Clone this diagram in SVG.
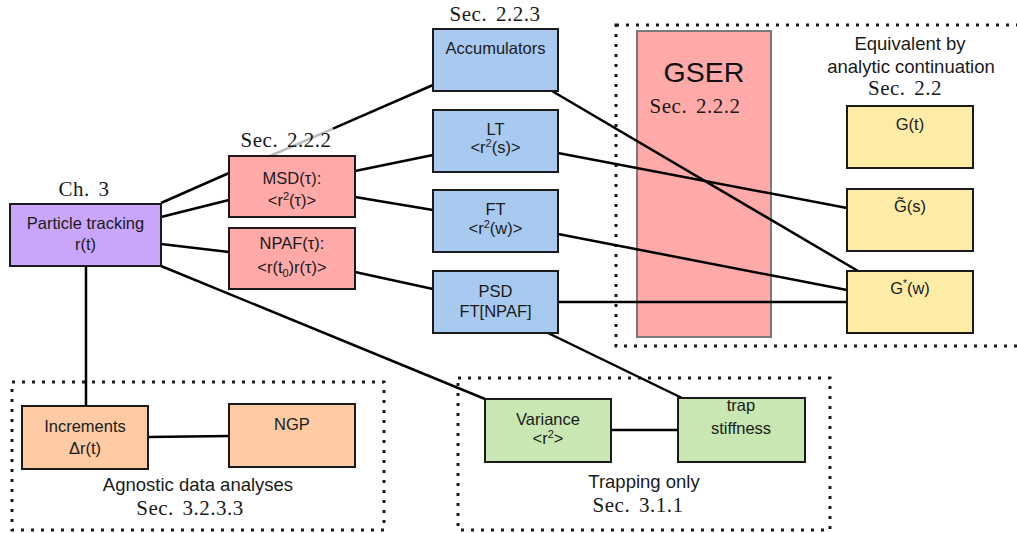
<svg xmlns="http://www.w3.org/2000/svg" width="1017" height="533" viewBox="0 0 1017 533">
<style>
.box{stroke:#1a1a1a;stroke-width:2}
.t{font-family:"Liberation Sans",Arial,sans-serif;font-size:16.5px;fill:#1a1a1a;text-anchor:middle}
.lbl{font-family:"Liberation Sans",Arial,sans-serif;font-size:18.5px;fill:#1a1a1a;text-anchor:middle}
.sec{font-family:"Liberation Serif","Times New Roman",serif;font-size:21px;fill:#1a1a1a;text-anchor:middle;word-spacing:3px;letter-spacing:0.5px}
.dot{fill:none;stroke:#1a1a1a;stroke-width:3;stroke-dasharray:3 7}
.c{stroke:#000;stroke-width:2.5;fill:none}
.sup{font-size:11px}
.purple{fill:#c9a6fc}.pink{fill:#ffa9a9}.blue{fill:#a9caf0}.yellow{fill:#feeba6}.orange{fill:#fdcaa3}.green{fill:#c8e7b2}
</style>
<g id="containers">
<rect id="equiv-group" class="dot" x="616" y="25" width="420" height="321"/>
<rect id="agnostic-group" class="dot" x="12" y="382" width="372" height="148"/>
<rect id="trapping-group" class="dot" x="458" y="378" width="372" height="152"/>
</g>
<g id="gser">
<rect x="637" y="31" width="134" height="306" fill="#ffa9a9" stroke="#7a7a7a" stroke-width="2"/>
<text x="704" y="82" style="font-family:'Liberation Sans',Arial,sans-serif;font-size:28.5px;fill:#111;text-anchor:middle">GSER</text>
<text class="sec" x="695" y="113">Sec. 2.2.2</text>
</g>
<g id="connectors">
<line class="c" x1="161" y1="203" x2="229" y2="173"/>
<line class="c" x1="161" y1="217" x2="229" y2="200"/>
<line class="c" x1="161" y1="244" x2="229" y2="252"/>
<line class="c" x1="161" y1="266" x2="485" y2="399"/>
<line class="c" x1="86" y1="266" x2="86" y2="406"/>
<line x1="270" y1="156" x2="333" y2="128.6" stroke="#bbb" stroke-width="2.5"/>
<line class="c" x1="333" y1="128.6" x2="433" y2="85"/>
<line class="c" x1="355" y1="171" x2="433" y2="155"/>
<line class="c" x1="355" y1="197" x2="433" y2="210"/>
<line class="c" x1="355" y1="272" x2="433" y2="289"/>
<line class="c" x1="552" y1="91" x2="858" y2="271"/>
<line class="c" x1="558" y1="153" x2="847" y2="208"/>
<line class="c" x1="558" y1="234" x2="847" y2="290"/>
<line class="c" x1="558" y1="302" x2="847" y2="302"/>
<line class="c" x1="548" y1="333" x2="682" y2="398"/>
<line class="c" x1="148" y1="437" x2="229" y2="436"/>
<line class="c" x1="611" y1="430" x2="678" y2="430"/>
</g>
<g id="particle-tracking">
<rect class="box purple" x="10" y="204" width="151" height="62"/>
<text class="t" x="85.5" y="229">Particle tracking</text>
<text class="t" x="85.5" y="250">r(t)</text>
<text class="sec" x="84" y="196">Ch. 3</text>
</g>
<g id="msd">
<rect class="box pink" x="229" y="156" width="126" height="61"/>
<text class="t" x="292" y="184">MSD(τ):</text>
<text class="t" x="292" y="206">&lt;r<tspan class="sup" dy="-6">2</tspan><tspan dy="6">(τ)&gt;</tspan></text>
<text class="sec" x="286" y="147">Sec. 2.2.2</text>
</g>
<g id="npaf">
<rect class="box pink" x="229" y="228" width="126" height="61"/>
<text class="t" x="292" y="249">NPAF(τ):</text>
<text class="t" x="292" y="273">&lt;r(t<tspan class="sup" dy="4">0</tspan><tspan dy="-4">)r(τ)&gt;</tspan></text>
</g>
<g id="accumulators">
<rect class="box blue" x="433" y="29" width="125" height="62"/>
<text class="t" x="495.5" y="54">Accumulators</text>
<text class="sec" x="495" y="21">Sec. 2.2.3</text>
</g>
<g id="lt">
<rect class="box blue" x="433" y="110" width="125" height="62"/>
<text class="t" x="495.5" y="135">LT</text>
<text class="t" x="495.5" y="153">&lt;r<tspan class="sup" dy="-6">2</tspan><tspan dy="6">(s)&gt;</tspan></text>
</g>
<g id="ft">
<rect class="box blue" x="433" y="190" width="125" height="62"/>
<text class="t" x="495.5" y="215">FT</text>
<text class="t" x="495.5" y="234">&lt;r<tspan class="sup" dy="-6">2</tspan><tspan dy="6">(w)&gt;</tspan></text>
</g>
<g id="psd">
<rect class="box blue" x="433" y="271" width="125" height="62"/>
<text class="t" x="495.5" y="297">PSD</text>
<text class="t" x="495.5" y="317">FT[NPAF]</text>
</g>
<g id="equiv-label">
<text class="lbl" x="910" y="50">Equivalent by</text>
<text class="lbl" x="911" y="73">analytic continuation</text>
<text class="sec" x="905" y="95">Sec. 2.2</text>
</g>
<g id="g-t">
<rect class="box yellow" x="847" y="106" width="126" height="62"/>
<text class="t" x="910" y="130">G(t)</text>
</g>
<g id="g-s">
<rect class="box yellow" x="847" y="189" width="126" height="62"/>
<text class="t" x="910" y="212">G&#x303;(s)</text>
</g>
<g id="g-w">
<rect class="box yellow" x="847" y="271" width="126" height="62"/>
<text class="t" x="910" y="294">G<tspan class="sup" dy="-7" style="font-size:10px">*</tspan><tspan dy="7">(w)</tspan></text>
</g>
<g id="increments">
<rect class="box orange" x="22" y="406" width="126" height="63"/>
<text class="t" x="85" y="432">Increments</text>
<text class="t" x="85" y="454">Δr(t)</text>
</g>
<g id="ngp">
<rect class="box orange" x="229" y="404" width="126" height="63"/>
<text class="t" x="292" y="430">NGP</text>
</g>
<g id="agnostic-label">
<text class="lbl" x="198" y="491">Agnostic data analyses</text>
<text class="sec" x="190" y="515">Sec. 3.2.3.3</text>
</g>
<g id="variance">
<rect class="box green" x="485" y="399" width="126" height="63"/>
<text class="t" x="548" y="425">Variance</text>
<text class="t" x="548" y="444">&lt;r<tspan class="sup" dy="-6">2</tspan><tspan dy="6">&gt;</tspan></text>
</g>
<g id="trap-stiffness">
<rect class="box green" x="678" y="398" width="127" height="64"/>
<text class="t" x="741" y="411">trap</text>
<text class="t" x="741" y="434">stiffness</text>
</g>
<g id="trapping-label">
<text class="lbl" x="644" y="488">Trapping only</text>
<text class="sec" x="638" y="512">Sec. 3.1.1</text>
</g>
</svg>
